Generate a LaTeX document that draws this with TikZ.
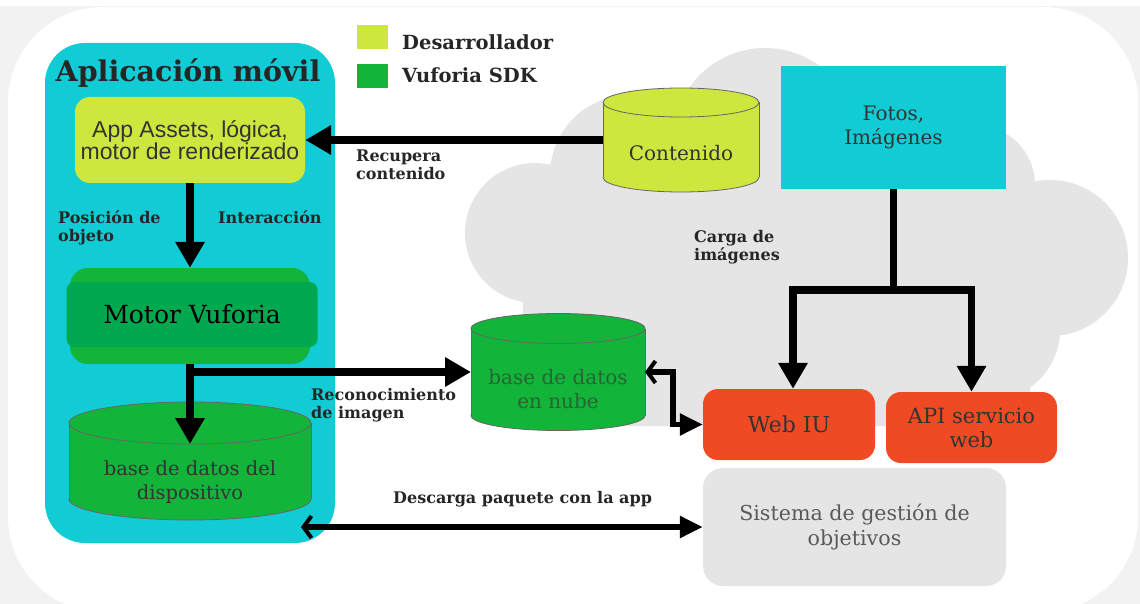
\documentclass[tikz,border=0pt]{standalone}
\usepackage{fontspec}
\setmainfont{DejaVu Serif}
\setsansfont{Liberation Sans}
\usetikzlibrary{arrows.meta,positioning}

\definecolor{appcyan}{RGB}{17,204,212}
\definecolor{devyellow}{RGB}{207,230,63}
\definecolor{vufgreen}{RGB}{18,180,58}
\definecolor{vufdark}{RGB}{0,168,80}
\definecolor{weborange}{RGB}{240,74,36}
\definecolor{dbtext}{RGB}{40,100,52}

% cylinder drawn inside the frame of a named node: node, x radius, y radius, colour
\newcommand{\dbcyl}[4]{%
  \draw[dbline,fill=#4] ([yshift=#3]#1.south) ellipse[x radius=#2,y radius=#3];
  \fill[#4] ([yshift=-#3]#1.north west) rectangle ([yshift=#3]#1.south east);
  \draw[dbline] ([yshift=-#3]#1.north west) -- ([yshift=#3]#1.south west)
    ([yshift=-#3]#1.north east) -- ([yshift=#3]#1.south east);
  \draw[dbline,fill=#4] ([yshift=-#3]#1.north) ellipse[x radius=#2,y radius=#3];}

\begin{document}
\begin{tikzpicture}[x=1pt,y=-1pt,
    >={Triangle[length=26pt,width=28pt]},
    font=\fontsize{20}{24}\selectfont,text=black!80]
  \tikzstyle{flow}=[draw=black,line width=7.5pt,->]
  \tikzstyle{both}=[draw=black,line width=5.5pt,
    arrows={Straight Barb[length=8pt,width=22pt,line width=4pt]-Triangle[length=23pt,width=21pt]}]
  \tikzstyle{tag}=[font=\bfseries\fontsize{16}{18}\selectfont,align=left,inner sep=0pt,text=black!85]
  \tikzstyle{dbnode}=[inner sep=0pt,outer sep=0pt]
  \tikzstyle{dbline}=[draw=black!60,thick]
  \tikzstyle{box}=[rounded corners=15pt,align=center,inner sep=0pt]
  \useasboundingbox (0,0) rectangle (1140,604);

  % frame and cloud
  \fill[black!5] (0,0) rectangle (1140,604);
  \fill[white] (0,0) rectangle (1140,6);
  \fill[white,rounded corners=95pt] (8,7) rectangle (1138,612);
  \fill[black!10] (535,233) circle[radius=70pt] (630,175) circle[radius=80pt]
    (765,140) circle[radius=92pt] (975,185) circle[radius=60pt]
    (1050,258) circle[radius=78pt] (990,330) circle[radius=70pt]
    (580,170) rectangle (1030,426) (523,260) rectangle (600,426);

  % mobile app
  \node[fill=appcyan,rounded corners=40pt,minimum width=290pt,minimum height=500pt] (app) at (190,293) {};
  \node[font=\bfseries\fontsize{28.5}{32}\selectfont,text=black!85,anchor=base] (title) at (188,82) {Aplicación móvil};

  % legend
  \node[fill=devyellow,minimum width=31pt,minimum height=24pt,inner sep=0pt] (devkey) at (372,37) {};
  \node[fill=vufgreen,minimum width=31pt,minimum height=24pt,inner sep=0pt] (vufkey) at (372,76) {};
  \node[tag,font=\bfseries\fontsize{19.5}{22}\selectfont,anchor=base west] (devlbl) at (402,50) {Desarrollador};
  \node[tag,font=\bfseries\fontsize{19.5}{22}\selectfont,anchor=base west] (vuflbl) at (402,83) {Vuforia SDK};

  \node[box,fill=devyellow,font=\sffamily\fontsize{23}{22}\selectfont,minimum width=230pt,minimum height=86pt] (assets) at (190,140) {App Assets, lógica,\\motor de renderizado};
  \node[box,fill=vufgreen,rounded corners=18pt,minimum width=240pt,minimum height=96pt] (motorback) at (190,316) {};
  \node[fill=vufdark,rounded corners=8pt,minimum width=251pt,minimum height=65pt,font=\fontsize{25}{28}\selectfont,text=black] (motor) at (192,314.5) {Motor Vuforia};
  \node[dbnode,minimum width=242pt,minimum height=118pt] (device) at (190,461) {};
  \dbcyl{device}{121pt}{21pt}{vufgreen}
  \node[align=center,font=\fontsize{19.5}{24}\selectfont] (devicetxt) at ([yshift=-21pt]device.center) {base de datos del\\dispositivo};

  % cloud side
  \node[dbnode,minimum width=156pt,minimum height=104pt] (contenido) at (681,140) {};
  \dbcyl{contenido}{78pt}{14.5pt}{devyellow}
  \node (contenidotxt) at ([yshift=-13pt]contenido.center) {Contenido};
  \node[fill=appcyan,minimum width=225pt,minimum height=123pt,align=center] (fotos) at (893.5,127.5) {Fotos,\\Imágenes};
  \node[dbnode,minimum width=174pt,minimum height=117pt] (clouddb) at (558,372) {};
  \dbcyl{clouddb}{87pt}{15pt}{vufgreen}
  \node[align=center,text=dbtext] (clouddbtxt) at ([yshift=-17pt]clouddb.center) {base de datos\\en nube};
  \node[box,fill=weborange,minimum width=172pt,minimum height=71pt,font=\fontsize{22}{24}\selectfont] (webiu) at (789,424.5) {Web IU};
  \node[box,fill=weborange,minimum width=171pt,minimum height=71pt,font=\fontsize{21}{24}\selectfont] (api) at (971.5,427.5) {API servicio\\web};
  \node[box,fill=black!10,rounded corners=20pt,minimum width=303pt,minimum height=118pt,text=black!65,font=\fontsize{20.6}{25}\selectfont] (sistema) at (854.5,527) {Sistema de gestión de\\objetivos};

  % connectors
  \draw[flow] (contenido.west) -- (assets.east);
  \draw[flow] (assets.south) -- (motorback.north);
  \draw[flow] (motorback.south) -- ([yshift=-42pt]device.north);
  \coordinate (split) at (motorback.south |- clouddb.west);
  \draw[flow] ([xshift=-3.75pt]split) -- (clouddb.west);
  \coordinate (fork) at (fotos.south |- 0,290);
  \draw[flow,-] (fotos.south) -- (fork);
  \draw[flow] (fork) -| ([xshift=4pt]webiu.north);
  \draw[flow] (fork) -| (api.north);
  \draw[both] (clouddb.east) -- ++(28,0) |- (webiu.west);
  \coordinate (appport) at (301,527);
  \draw[both] (appport) -- (sistema.west);

  % labels
  \node[tag,anchor=west] (recupera) at (356,165) {Recupera\\contenido};
  \node[tag,anchor=west] (posicion) at (58,228) {Posición de\\objeto};
  \node[tag,anchor=base west] (interaccion) at (218,223) {Interacción};
  \node[tag,anchor=west] (reconoc) at (311,405) {Reconocimiento\\de imagen};
  \node[tag,anchor=west] (carga) at (694,247) {Carga de\\imágenes};
  \node[tag,anchor=base west] (descarga) at (393,503) {Descarga paquete con la app};
\end{tikzpicture}
\end{document}
